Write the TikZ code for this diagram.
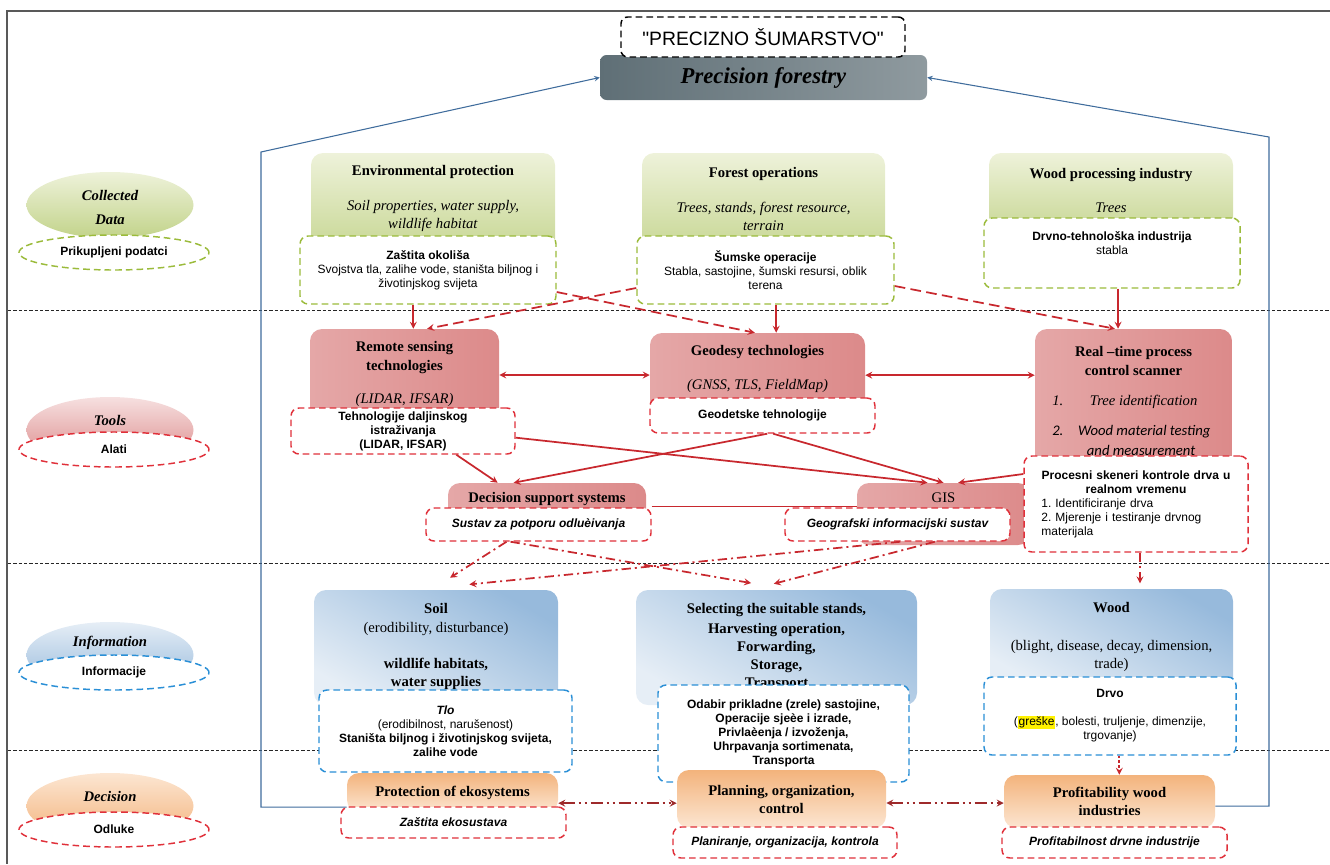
\documentclass[tikz,border=0pt]{standalone}
\usepackage{fontspec}
\setmainfont{Liberation Serif}
\setsansfont{Liberation Sans}
\newfontfamily\calfont{Carlito}
\usepackage{tikz}
\usetikzlibrary{shapes.geometric}
\definecolor{grnA}{HTML}{EEF2DA}
\definecolor{grnB}{HTML}{C2D38A}
\definecolor{grnD}{HTML}{9BBB3B}
\definecolor{rdA}{HTML}{F6E0E0}
\definecolor{rdB}{HTML}{DC8A8A}
\definecolor{rdD}{HTML}{E0303A}
\definecolor{rdL}{HTML}{C8282E}
\definecolor{blA}{HTML}{E6EEF6}
\definecolor{blB}{HTML}{97BADC}
\definecolor{blD}{HTML}{2A8FD6}
\definecolor{orA}{HTML}{FCE6D2}
\definecolor{orB}{HTML}{F3B37C}
\definecolor{pfA}{HTML}{5F6F76}
\definecolor{pfB}{HTML}{EEF1F2}
\definecolor{fbBl}{HTML}{3F6C9C}
\definecolor{drk}{HTML}{9E2A2B}

\begin{document}
\begin{tikzpicture}[x=0.75pt,y=-0.75pt,
    box/.style={rounded corners=9pt, inner sep=0pt},
    gbox/.style={box, top color=grnA, bottom color=grnB},
    rbox/.style={box, left color=rdB!75!white, middle color=rdA, right color=rdB},
    bbox/.style={box, top color=blB, bottom color=blA, shading angle=-30},
    obox/.style={box, top color=orB, bottom color=orA, align=center, font=\fontsize{11}{13.5}\selectfont\bfseries},
    tx/.style={align=center, inner sep=0pt, font=\fontsize{11}{13.5}\selectfont},
    ell/.style={ellipse, minimum width=125.25pt, minimum height=49.5pt, inner sep=0pt},
    etx/.style={tx, font=\fontsize{11}{13}\selectfont\bfseries\itshape},
    dbox/.style={draw, fill=white, rounded corners=6pt, line width=1.1pt, dash pattern=on 5pt off 3pt, inner sep=2pt, align=center, font=\sffamily\fontsize{9}{10.5}\selectfont\frenchspacing},
    gdash/.style={dbox, draw=grnD},
    rdash/.style={dbox, draw=rdD},
    bdash/.style={dbox, draw=blD},
    dbold/.style={font=\sffamily\bfseries\fontsize{9}{10.5}\selectfont},
    dbit/.style={font=\sffamily\bfseries\itshape\fontsize{9}{10.5}\selectfont},
    dell/.style={dbox, ellipse, dbold, minimum width=142.5pt, minimum height=26.25pt},
    sep/.style={black!85, line width=0.6pt, dash pattern=on 2.5pt off 1.5pt},
    ra/.style={draw=rdL, line width=1.3pt, -stealth},
    rab/.style={ra, stealth-stealth},
    rl/.style={draw=rdL, line width=1.3pt},
    rd/.style={ra, dash pattern=on 8pt off 4pt},
    rdd/.style={ra, dash pattern=on 7pt off 3pt on 1.5pt off 3pt},
    rdot/.style={ra, dash pattern=on 2pt off 1.5pt},
    dk/.style={draw=drk, line width=1.3pt, stealth-stealth, dash pattern=on 9pt off 3pt on 1.5pt off 3pt on 1.5pt off 3pt},
    fb/.style={draw=fbBl, line width=0.8pt, -stealth}]
\useasboundingbox (0,0) rectangle (1330,864);
\draw[black!65, line width=1pt] (1330,11) -- (7,11) -- (7,864);
\foreach \yy in {310,563,750}
    \draw[sep] (8,\yy) -- (1330,\yy);

% title
\node[box, rounded corners=5pt, left color=pfA, middle color=pfB, right color=pfA!70!white, minimum width=245.25pt, minimum height=33.75pt, font=\fontsize{17}{20}\selectfont\bfseries\itshape] (pf) at (763.5,77.5) {Precision forestry};
\node[dbox, draw=black, rounded corners=5pt, minimum width=213pt, minimum height=30pt, font=\sffamily\fontsize{14.5}{17}\selectfont] (naslov) at (763,37) {\textquotedbl PRECIZNO ŠUMARSTVO\textquotedbl};

% left column
\node[ell, top color=grnA, bottom color=grnB] (cdE) at (110,205) {};
\node[etx] (cdT) at (110,207) {Collected\\[5pt]Data};
\node[dell, draw=grnD] (prikup) at (114,252.5) {Prikupljeni podatci};
\node[ell, top color=rdA, bottom color=rdB] (tlE) at (110,430) {};
\node[etx] (tlT) at (110,420) {Tools};
\node[dell, draw=rdD] (alati) at (114,449.5) {Alati};
\node[ell, top color=blA, bottom color=blB] (inE) at (110,655) {};
\node[etx] (inT) at (110,643) {Information};
\node[dell, draw=blD] (inf) at (114,672.5) {Informacije};
\node[ell, top color=orA, bottom color=orB] (deE) at (110,806) {};
\node[etx] (deT) at (110,796) {Decision};
\node[dell, draw=rdD] (odl) at (114,829.5) {Odluke};

% collected data
\node[gbox, minimum width=183pt, minimum height=84pt] (env) at (433,209) {};
\node[gbox, minimum width=182.25pt, minimum height=84pt] (forop) at (763.5,209) {};
\node[gbox, minimum width=183pt, minimum height=69pt] (wpi) at (1111,199) {};
\node[tx] (envT) at (433,198.5) {\textbf{Environmental protection}\\[12.75pt]\textit{Soil properties, water supply,}\\\textit{wildlife habitat}};
\node[tx] (forT) at (763.5,198.5) {\textbf{Forest operations}\\[12.75pt]\textit{Trees, stands, forest resource,}\\\textit{terrain}};
\node[tx] (wpiT) at (1111,190) {\textbf{Wood processing industry}\\[12pt]\textit{Trees}};
\node[gdash, minimum width=192pt, minimum height=51pt] (zast) at (428,270) {\textbf{Zaštita okoliša}\\Svojstva tla, zalihe vode, staništa biljnog i\\životinjskog svijeta};
\node[gdash, minimum width=192.75pt, minimum height=51pt] (sumop) at (765.5,270) {\textbf{Šumske operacije}\\Stabla, sastojine, šumski resursi, oblik\\terena};
\node[gdash, minimum width=192pt, minimum height=52.5pt] (drvno) at (1112,253) {\textbf{Drvno-tehnološka industrija}\\stabla\\[5pt]\mbox{}};

% tools
\node[rbox, minimum width=141.75pt, minimum height=72pt] (rs) at (404.5,377) {};
\node[rbox, minimum width=161.25pt, minimum height=65.25pt] (geo) at (757.5,376.5) {};
\node[rbox, minimum width=147.75pt, minimum height=105.75pt] (rt) at (1133.5,399.5) {};
\node[rbox, minimum width=148.5pt, minimum height=35.25pt] (dss) at (547,506.5) {};
\node[rbox, minimum width=129.75pt, minimum height=46.5pt] (gis) at (943.5,514) {};
\node[tx] (rsT) at (404.5,374) {\textbf{Remote sensing}\\[0.75pt]\textbf{technologies}\\[11.25pt]\textit{(LIDAR, IFSAR)}};
\node[tx] (geoT) at (757.5,369) {\textbf{Geodesy technologies}\\[12pt]\textit{(GNSS, TLS, FieldMap)}};
\node[tx] (rtT) at (1133.5,360.5) {\textbf{Real –time process}\\[0.75pt]\textbf{control scanner}};
\node[tx, align=left, anchor=west] (rtL) at (1052,425) {\textit{1.}\hspace*{20pt}\textit{Tree identification}\\[9pt]{\calfont\itshape 2.\hspace*{11pt}Wood material testing}\\[1.5pt]{\calfont\itshape\hspace*{26pt}and measurement}};
\node[tx] (dssT) at (547,499) {\textbf{Decision support systems}};
\node[tx] (gisT) at (943.5,498) {GIS};
\node[rdash, dbold, minimum width=168pt, minimum height=34.5pt] (tdi) at (403,431) {Tehnologije daljinskog\\istraživanja\\(LIDAR, IFSAR)};
\node[rdash, dbold, minimum width=168.75pt, minimum height=26.25pt] (gdt) at (762.5,415.5) {Geodetske tehnologije};
\node[rdash, minimum width=168pt, minimum height=72pt, text width=142pt, align=left] (proc) at (1136,504) {{\centering\bfseries Procesni skeneri kontrole drva u\\realnom vremenu\par}1. Identificiranje drva\\2. Mjerenje i testiranje drvnog\\materijala};
\node[rdash, dbit, minimum width=168.75pt, minimum height=24.75pt] (sus) at (538.5,524.5) {Sustav za potporu odluèivanja};
\node[rdash, dbit, minimum width=168.75pt, minimum height=24.75pt] (ggs) at (897.5,524.5) {Geografski informacijski sustav};

% information
\node[bbox, minimum width=183pt, minimum height=86.25pt] (soil) at (436,647.5) {};
\node[bbox, minimum width=210.75pt, minimum height=86.25pt] (sel) at (776.5,647.5) {};
\node[bbox, minimum width=182.25pt, minimum height=75.75pt] (wood) at (1111.5,639.5) {};
\node[tx] (soilT) at (436,646.5) {\textbf{Soil}\\[0.75pt](erodibility, disturbance)\\[13.5pt]\textbf{wildlife habitats,}\\\textbf{water supplies}};
\node[tx, font=\fontsize{11}{13.5}\selectfont\bfseries] (selT) at (776.5,646.5) {Selecting the suitable stands,\\[1.5pt]Harvesting operation,\\Forwarding,\\Storage,\\Transport};
\node[tx] (woodT) at (1111.5,637) {\textbf{Wood}\\[15pt](blight, disease, decay, dimension,\\trade)};
\node[bdash, minimum width=189.75pt, minimum height=61.5pt] (tlo) at (445.5,731) {\textbf{\textit{Tlo}}\\(erodibilnost, narušenost)\\\textbf{Staništa biljnog i životinjskog svijeta,}\\\textbf{zalihe vode}};
\node[bdash, dbold, minimum width=188.25pt, minimum height=72.75pt] (oda) at (783.5,733.5) {Odabir prikladne (zrele) sastojine,\\Operacije sjeèe i izrade,\\Privlaèenja / izvoženja,\\Uhrpavanja sortimenata,\\Transporta};
\node[bdash, minimum width=189pt, minimum height=58.5pt] (drvo) at (1110,716) {\textbf{Drvo}\\[10.5pt]({\setlength{\fboxsep}{0.5pt}\colorbox{yellow}{greške}}, bolesti, truljenje, dimenzije,\\trgovanje)};

% decision
\node[obox, minimum width=158.25pt, minimum height=29.25pt] (prot) at (452.5,792.5) {Protection of ekosystems};
\node[obox, minimum width=156.75pt, minimum height=43.5pt] (plan) at (781.5,799) {Planning, organization,\\control};
\node[obox, minimum width=158.25pt, minimum height=39.75pt] (prof) at (1109.5,801.5) {Profitability wood\\industries};
\node[rdash, dbit, minimum width=168.75pt, minimum height=23.25pt] (zeko) at (453.5,822.5) {Zaštita ekosustava};
\node[rdash, dbit, minimum width=168pt, minimum height=23.25pt] (plr) at (785,842.5) {Planiranje, organizacija, kontrola};
\node[rdash, dbit, minimum width=168.75pt, minimum height=23.25pt] (pfb) at (1114.5,842.5) {Profitabilnost drvne industrije};

% connectors
\draw[ra] ([xshift=-11pt]zast.south) -- ([xshift=-11pt]zast.south |- rs.north);
\draw[rd] ([yshift=-13.5pt]sumop.west) -- ([xshift=17pt]rs.north);
\draw[rd] ([yshift=-16.5pt]zast.east) -- ([xshift=-2pt]geo.north);
\draw[ra] ([xshift=8pt]sumop.south) -- ([xshift=8pt]sumop.south |- geo.north);
\draw[rd] ([yshift=-12pt]sumop.east) -- ([xshift=-14pt]rt.north);
\draw[ra] ([xshift=4.5pt]drvno.south) -- ([xshift=4.5pt]drvno.south |- rt.north);

\draw[rab] ([yshift=1.5pt]rs.east) -- ([yshift=1.5pt]rs.east -| geo.west);
\draw[rab] ([yshift=1pt]geo.east) -- ([yshift=1pt]geo.east -| rt.west);
\draw[ra] ([xshift=40pt]tdi.south) -- ([xshift=-37pt]dss.north);
\draw[ra] ([yshift=-5pt]tdi.east) -- ([xshift=-12pt]gis.north);
\draw[ra] ([xshift=3.5pt]gdt.south) -- ([xshift=-25pt]dss.north);
\draw[ra] ([xshift=8pt]gdt.south) -- (gis.north);
\draw[ra] ([yshift=22.5pt]proc.west) -- ([xshift=11pt]gis.north);
\draw[rl] (dss.east -| sus.east) -- (dss.east -| gis.west);

\draw[rdd] ([xshift=-24pt]sus.south) -- ([xshift=10.5pt,yshift=9pt]soil.north);
\draw[rdd] ([xshift=-21pt]sus.south) -- ([xshift=-19pt,yshift=5pt]sel.north);
\draw[rdd] ([xshift=2pt]ggs.south) -- ([xshift=25pt,yshift=4pt]soil.north);
\draw[rdd] ([xshift=28pt]ggs.south) -- ([xshift=-2pt,yshift=4.5pt]sel.north);
\draw[rdd] ([xshift=3pt]proc.south) -- ([xshift=3pt,yshift=4pt]proc.south |- wood.north);

\draw[rdot] ([xshift=7pt]drvo.south) -- ([xshift=7pt]drvo.south |- prof.north);
\draw[dk] ([yshift=-8pt]prot.east) -- ([yshift=-8pt]prot.east -| plan.west);
\draw[dk] ([yshift=-3pt]plan.east) -- ([yshift=-3pt]plan.east -| prof.west);

\coordinate (fbL) at (261,152);
\coordinate (fbR) at (1269,137);
\draw[fb] ([yshift=-11pt]prot.west) -| (fbL) -- (pf.west);
\draw[fb] ([yshift=-3.5pt]prof.east) -| (fbR) -- (pf.east);
\end{tikzpicture}
\end{document}
